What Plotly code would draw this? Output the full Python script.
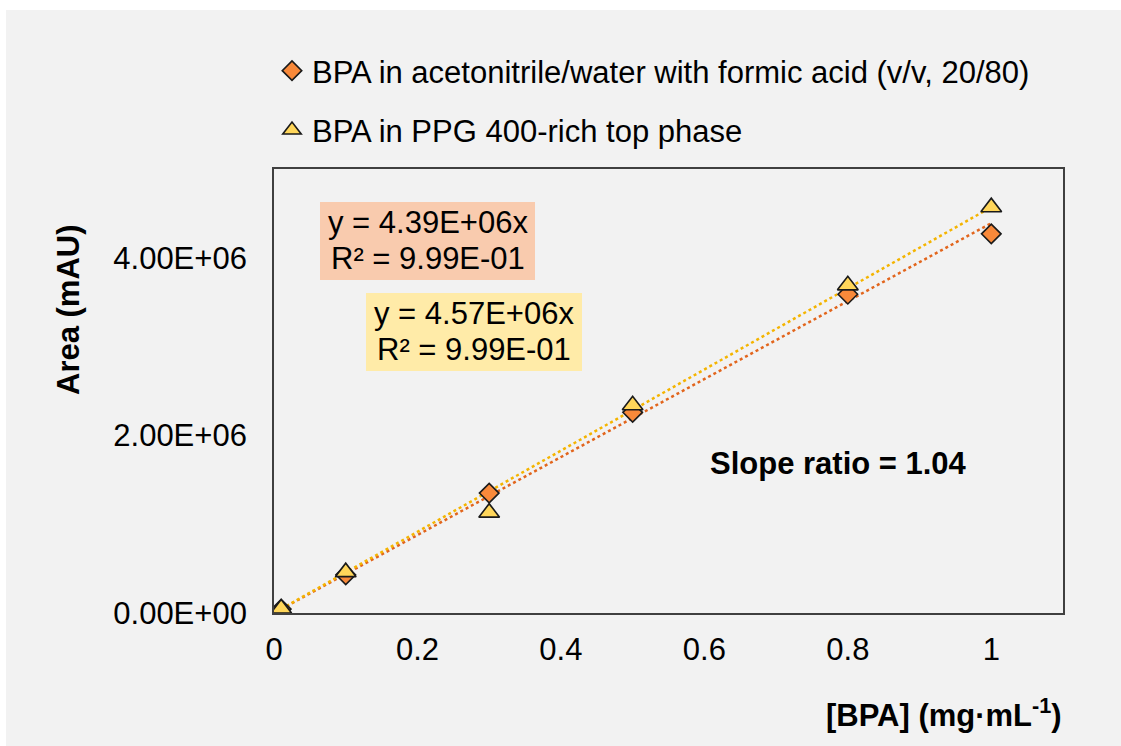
import numpy as np
import plotly.graph_objects as go

# ---- data ----
conc = [0.01, 0.1, 0.3, 0.5, 0.8, 1.0]
area_acn = [0.044e6, 0.43e6, 1.35e6, 2.26e6, 3.59e6, 4.27e6]
area_ppg = [0.05e6, 0.46e6, 1.13e6, 2.34e6, 3.69e6, 4.57e6]
slope_acn = 4.39e6
slope_ppg = 4.57e6
eq_acn = ["y = 4.39E+06x", "R² = 9.99E-01"]
eq_ppg = ["y = 4.57E+06x", "R² = 9.99E-01"]
name_acn = "BPA in acetonitrile/water with formic acid (v/v, 20/80)"
name_ppg = "BPA in PPG 400-rich top phase"
y_ticks = [0, 2e6, 4e6]
x_ticks = [0, 0.2, 0.4, 0.6, 0.8, 1.0]
x_tick_text = ["0", "0.2", "0.4", "0.6", "0.8", "1"]
slope_ratio_text = "Slope ratio = 1.04"

FONT = "Liberation Sans, Arial, sans-serif"
FS = 31

W, H = 1121, 746
L, R, T, B = 274, 58, 169, 133
PW, PH = W - L - R, H - T - B


def px(x):
    return (x - L) / PW


def py(y):
    return (H - B - y) / PH


xline = np.array([min(conc), max(conc)])

fig = go.Figure()
fig.add_trace(go.Scatter(x=xline, y=slope_acn * xline, mode="lines",
                         line=dict(color="#E2651C", width=2.5, dash="dot"),
                         showlegend=False, hoverinfo="skip"))
fig.add_trace(go.Scatter(x=xline, y=slope_ppg * xline, mode="lines",
                         line=dict(color="#F4B400", width=2.5, dash="dot"),
                         showlegend=False, hoverinfo="skip"))
fig.add_trace(go.Scatter(x=conc, y=area_acn, mode="markers", name=name_acn,
                         legendgroup="a",
                         marker=dict(symbol="diamond", size=15, color="#F8893A",
                                     line=dict(color="#1a1a1a", width=1.6))))
fig.add_trace(go.Scatter(x=conc, y=area_ppg, mode="markers", name=name_ppg,
                         legendgroup="b",
                         marker=dict(symbol="triangle-up", size=18, color="#FFD65A",
                                     line=dict(color="#1a1a1a", width=1.6))))

# gray chart background
fig.add_shape(type="rect", xref="paper", yref="paper",
              x0=px(6), x1=px(W + 5), y0=py(H + 5), y1=py(10),
              fillcolor="#F2F2F2", line=dict(width=0), layer="below")

# equation label boxes
boxes = [((320, 535, 202, 280), "#F9CBAE", eq_acn, (222, 258)),
         ((366, 582, 293, 371), "#FFEBA8", eq_ppg, (313, 349))]
for (x0, x1, y0, y1), col, lines, ys in boxes:
    fig.add_shape(type="rect", xref="paper", yref="paper",
                  x0=px(x0), x1=px(x1), y0=py(y1), y1=py(y0),
                  fillcolor=col, line=dict(width=0), layer="above")
    for txt, yy in zip(lines, ys):
        fig.add_annotation(xref="paper", yref="paper", x=px((x0 + x1) / 2), y=py(yy),
                           xanchor="center", yanchor="middle",
                           text=txt, showarrow=False,
                           font=dict(family=FONT, size=FS, color="black"))

fig.add_annotation(xref="paper", yref="paper", x=px(838), y=py(463),
                   xanchor="center", yanchor="middle",
                   text="<b>" + slope_ratio_text + "</b>", showarrow=False,
                   font=dict(family=FONT, size=FS, color="black"))
fig.add_annotation(xref="paper", yref="paper", x=px(68), y=py(310),
                   xanchor="center", yanchor="middle",
                   text="<b>Area (mAU)</b>", showarrow=False, textangle=-90,
                   font=dict(family=FONT, size=FS, color="black"))
fig.add_annotation(xref="paper", yref="paper", x=px(1064), y=py(713),
                   xanchor="right", yanchor="middle",
                   text="<b>[BPA] (mg·mL<sup>-1</sup>)</b>", showarrow=False,
                   font=dict(family=FONT, size=FS, color="black"))

fig.update_layout(
    width=W, height=H,
    margin=dict(l=L, r=R, t=T, b=B, pad=0),
    paper_bgcolor="white", plot_bgcolor="#F2F2F2",
    font=dict(family=FONT, size=FS, color="black"),
    showlegend=True,
    legend=dict(x=px(272), y=py(44), xanchor="left", yanchor="top",
                bgcolor="rgba(0,0,0,0)", tracegroupgap=16,
                font=dict(family=FONT, size=FS, color="black")),
    xaxis=dict(range=[0, 1.1], tickvals=x_ticks, ticktext=x_tick_text,
               showgrid=False, zeroline=False, showline=True, mirror=True,
               linecolor="#404040", linewidth=1.8, ticks="",
               ticklabelstandoff=8,
               tickfont=dict(family=FONT, size=FS, color="black")),
    yaxis=dict(range=[0, 5e6], tickvals=y_ticks,
               ticktext=[f"{v:.2E}" for v in y_ticks],
               showgrid=False, zeroline=False, showline=True, mirror=True,
               linecolor="#404040", linewidth=1.8, ticks="",
               ticklabelstandoff=19,
               tickfont=dict(family=FONT, size=FS, color="black")),
)

fig.write_html("out.html", config={"displayModeBar": False},
               post_script="document.body.style.margin='0';")
